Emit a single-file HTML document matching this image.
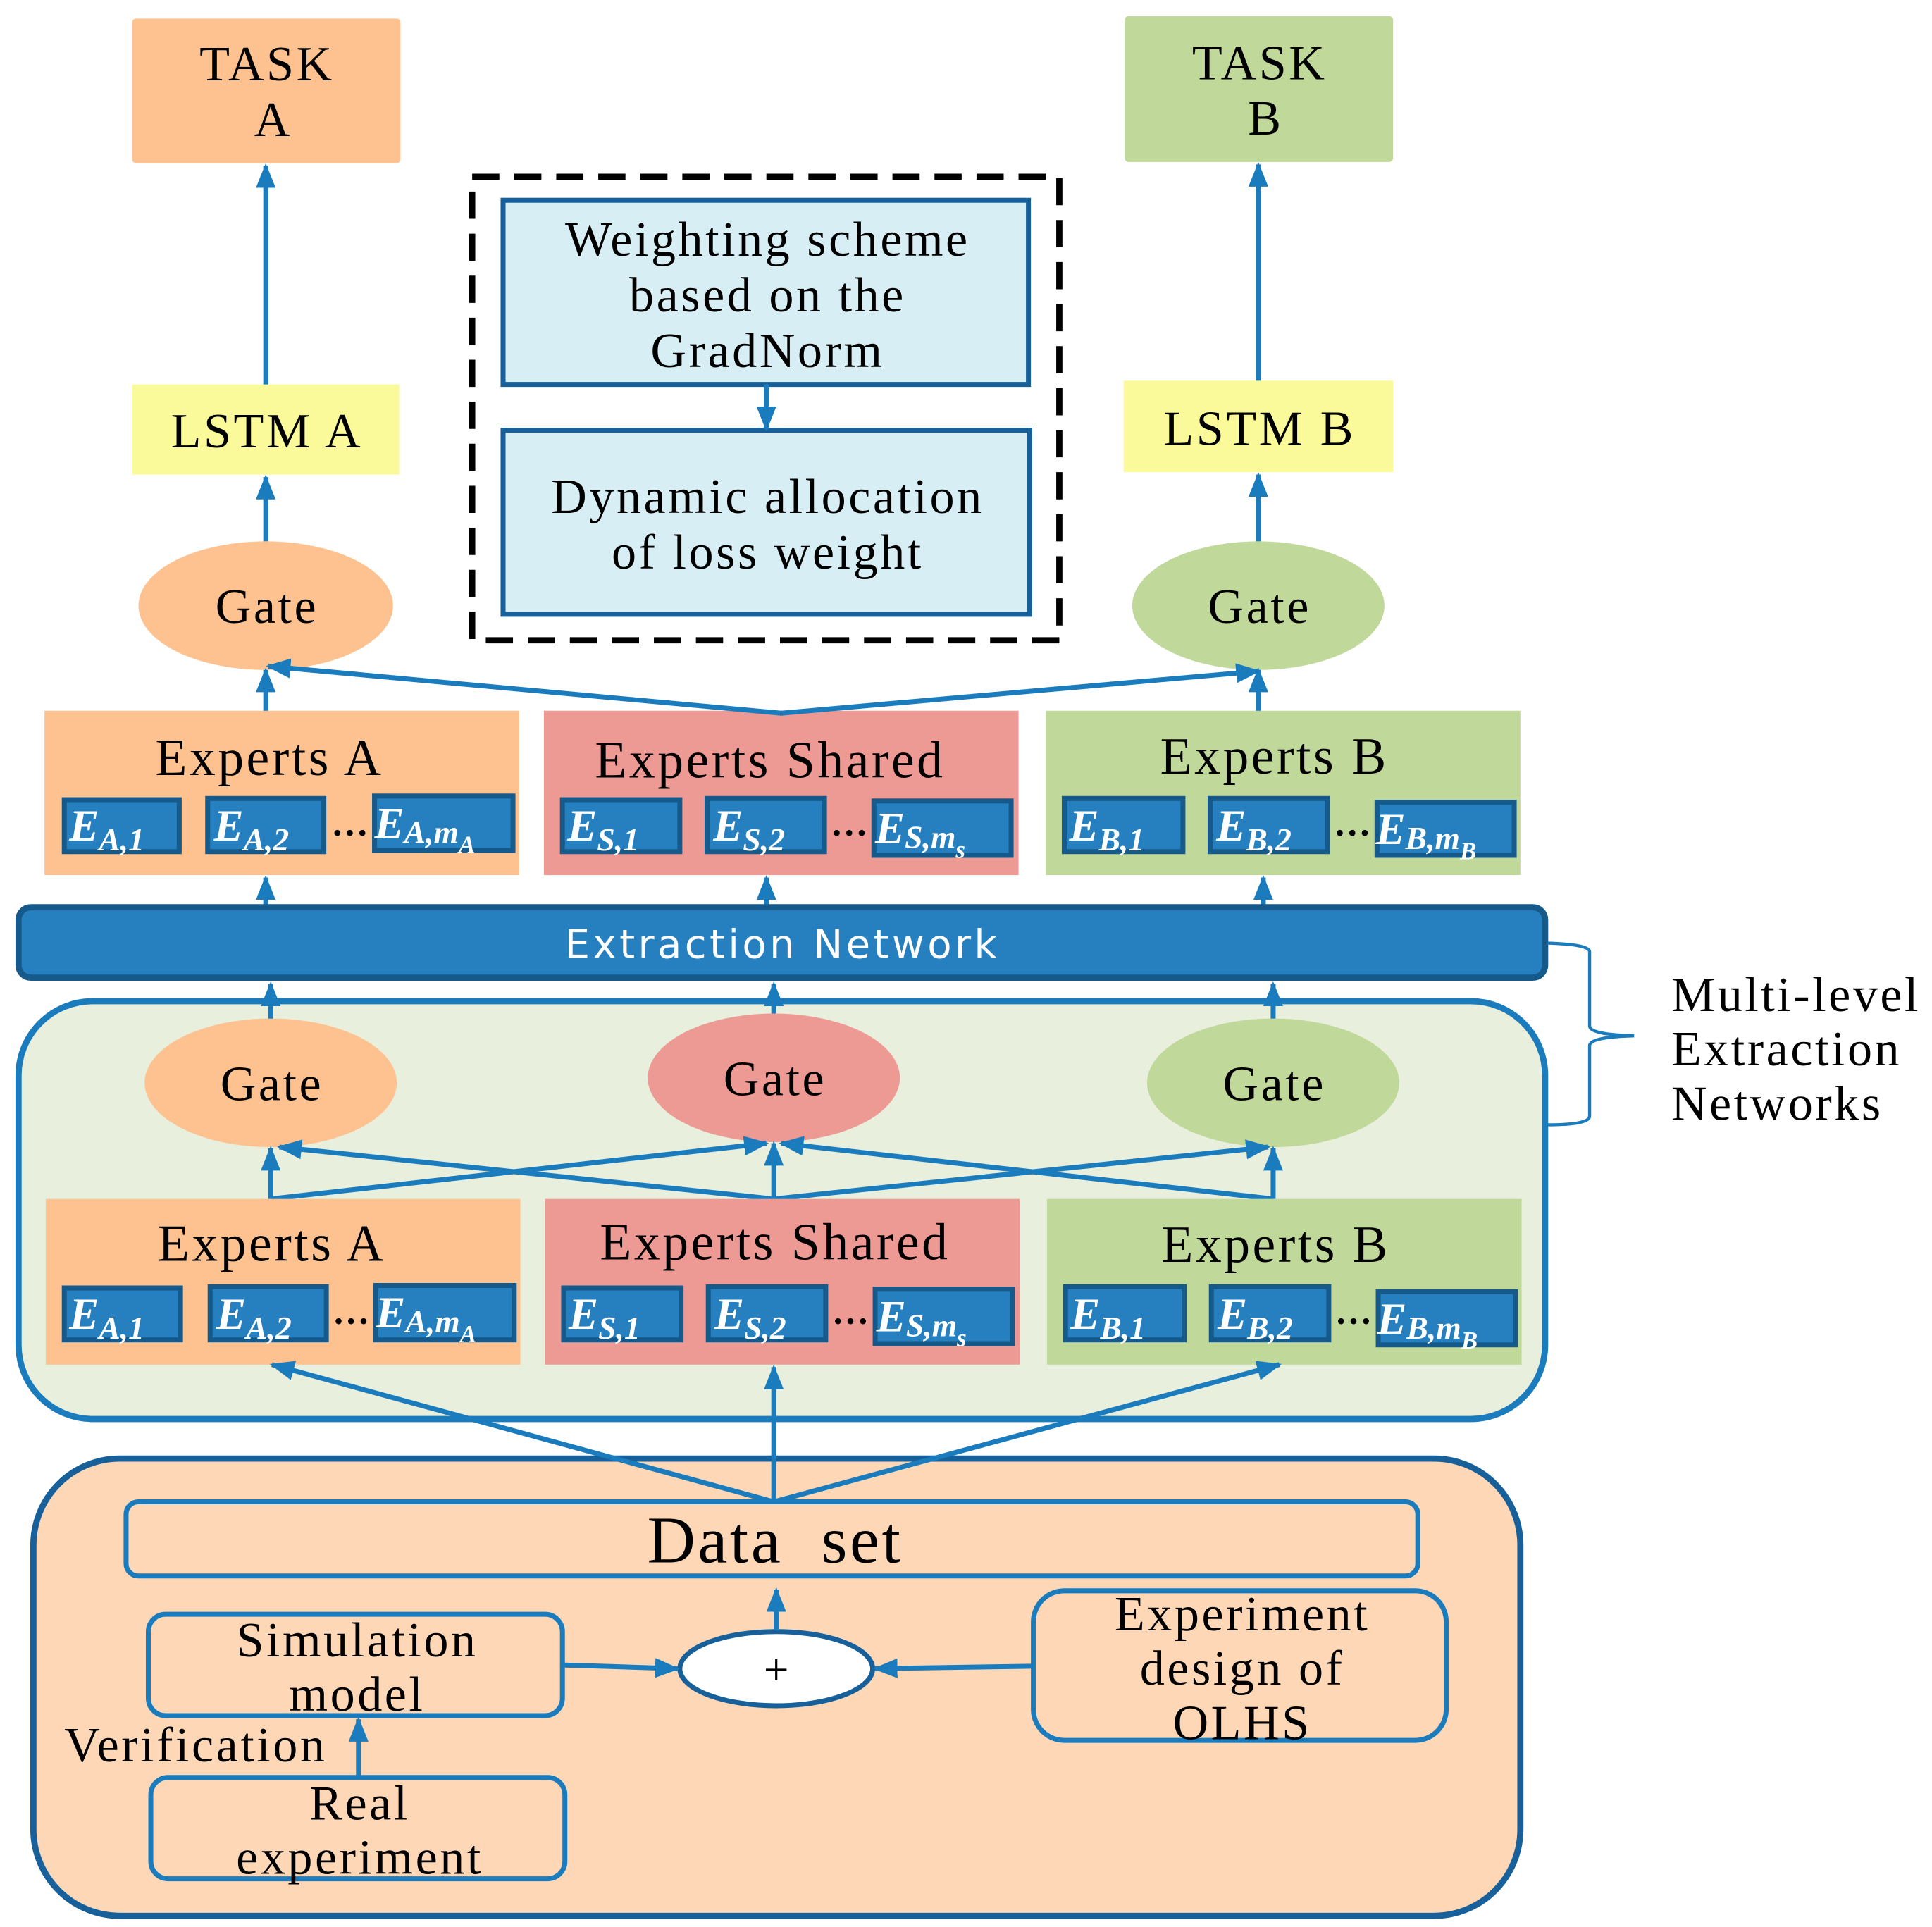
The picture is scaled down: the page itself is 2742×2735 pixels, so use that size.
<!DOCTYPE html>
<html><head><meta charset="utf-8"><style>
html,body{margin:0;padding:0;background:#fff;}
svg{display:block;}
text{font-family:"Liberation Serif",serif;fill:#000;letter-spacing:2px;}
.sb{fill:#2680C0;stroke:#155A8A;stroke-width:4;}
.et{fill:#fff;font-style:italic;font-weight:bold;font-size:36px;letter-spacing:0;}
.ar{stroke:#1a7bbd;stroke-width:4;fill:none;}
</style></head><body>
<svg width="2742" height="2735" viewBox="0 0 1563 1559" xmlns="http://www.w3.org/2000/svg">
<defs>
<marker id="ah" viewBox="0 0 10 10" refX="9" refY="5" markerWidth="5" markerHeight="5" orient="auto" markerUnits="strokeWidth">
<path d="M0,1 L10,5 L0,9 z" fill="#1a7bbd"/></marker>
</defs>
<rect width="1563" height="1559" fill="#fff"/>

<rect x="107" y="15" width="217" height="117" rx="3" fill="#FDC290"/>
<text x="216" y="65" font-size="40" text-anchor="middle">TASK</text>
<text x="221" y="110" font-size="40" text-anchor="middle">A</text>
<rect x="910" y="13" width="217" height="118" rx="3" fill="#C0D89A"/>
<text x="1019" y="64" font-size="40" text-anchor="middle">TASK</text>
<text x="1024" y="109" font-size="40" text-anchor="middle">B</text>

<rect x="107" y="311" width="216" height="73" fill="#FAFA9B"/>
<text x="216" y="362" font-size="40" text-anchor="middle">LSTM A</text>
<rect x="909" y="308" width="218" height="74" fill="#FAFA9B"/>
<text x="1019" y="360" font-size="40" text-anchor="middle">LSTM B</text>

<line class="ar" x1="215" y1="311" x2="215" y2="134" marker-end="url(#ah)"/>
<line class="ar" x1="1018" y1="308" x2="1018" y2="133" marker-end="url(#ah)"/>
<line class="ar" x1="215" y1="438" x2="215" y2="386" marker-end="url(#ah)"/>
<line class="ar" x1="1018" y1="438" x2="1018" y2="384" marker-end="url(#ah)"/>

<ellipse cx="215" cy="490" rx="103" ry="52" fill="#FDC290"/>
<text x="216" y="504" font-size="40" text-anchor="middle">Gate</text>
<ellipse cx="1018" cy="490" rx="102" ry="52" fill="#C0D89A"/>
<text x="1019" y="504" font-size="40" text-anchor="middle">Gate</text>

<rect x="382" y="143" width="475" height="375" fill="none" stroke="#000" stroke-width="5" stroke-dasharray="22,12"/>
<rect x="407" y="162" width="425" height="149" fill="#D6EEF4" stroke="#17609a" stroke-width="4"/>
<text x="621" y="207" font-size="40" text-anchor="middle">Weighting scheme</text>
<text x="621" y="252" font-size="40" text-anchor="middle">based on the</text>
<text x="621" y="297" font-size="40" text-anchor="middle">GradNorm</text>
<rect x="407" y="348" width="426" height="149" fill="#D6EEF4" stroke="#17609a" stroke-width="4"/>
<text x="621" y="415" font-size="40" text-anchor="middle">Dynamic allocation</text>
<text x="621" y="460" font-size="40" text-anchor="middle">of loss weight</text>
<line class="ar" x1="620" y1="311" x2="620" y2="347" marker-end="url(#ah)"/>

<rect x="36" y="575" width="384" height="133" fill="#FDC290"/>
<rect x="440" y="575" width="384" height="133" fill="#EE9A94"/>
<rect x="846" y="575" width="384" height="133" fill="#C0D89A"/>
<text x="218" y="627" font-size="42" text-anchor="middle">Experts A</text>
<text x="623" y="629" font-size="42" text-anchor="middle">Experts Shared</text>
<text x="1031" y="626" font-size="42" text-anchor="middle">Experts B</text>

<g>
<rect class="sb" x="52" y="647" width="93" height="42"/><text class="et" x="56" y="680">E<tspan font-size="26" dy="8">A,1</tspan></text>
<rect class="sb" x="168" y="646" width="94" height="43"/><text class="et" x="173" y="680">E<tspan font-size="26" dy="8">A,2</tspan></text>
<text x="283" y="676" font-size="30" font-weight="bold" text-anchor="middle" style="letter-spacing:0">…</text>
<rect class="sb" x="303" y="644" width="112" height="44"/><text class="et" x="303" y="678">E<tspan font-size="26" dy="4">A,m</tspan><tspan font-size="20" dy="8">A</tspan></text>

<rect class="sb" x="455" y="647" width="95" height="42"/><text class="et" x="459" y="680">E<tspan font-size="26" dy="8">S,1</tspan></text>
<rect class="sb" x="572" y="646" width="95" height="43"/><text class="et" x="577" y="680">E<tspan font-size="26" dy="8">S,2</tspan></text>
<text x="687" y="676" font-size="30" font-weight="bold" text-anchor="middle" style="letter-spacing:0">…</text>
<rect class="sb" x="707" y="648" width="111" height="44"/><text class="et" x="708" y="682">E<tspan font-size="26" dy="4">S,m</tspan><tspan font-size="20" dy="8">s</tspan></text>

<rect class="sb" x="861" y="646" width="96" height="43"/><text class="et" x="865" y="680">E<tspan font-size="26" dy="8">B,1</tspan></text>
<rect class="sb" x="979" y="646" width="95" height="43"/><text class="et" x="984" y="680">E<tspan font-size="26" dy="8">B,2</tspan></text>
<text x="1094" y="676" font-size="30" font-weight="bold" text-anchor="middle" style="letter-spacing:0">…</text>
<rect class="sb" x="1114" y="649" width="111" height="43"/><text class="et" x="1113" y="683">E<tspan font-size="26" dy="4">B,m</tspan><tspan font-size="20" dy="8">B</tspan></text>
</g>

<polyline class="ar" points="632,577 217,539" marker-end="url(#ah)"/>
<polyline class="ar" points="632,577 1018,543" marker-end="url(#ah)"/>
<line class="ar" x1="215" y1="575" x2="215" y2="542" marker-end="url(#ah)"/>
<line class="ar" x1="1018" y1="575" x2="1018" y2="542" marker-end="url(#ah)"/>
<line class="ar" x1="215" y1="733" x2="215" y2="710" marker-end="url(#ah)"/>
<line class="ar" x1="620" y1="733" x2="620" y2="710" marker-end="url(#ah)"/>
<line class="ar" x1="1022" y1="733" x2="1022" y2="710" marker-end="url(#ah)"/>

<rect x="15" y="734" width="1235" height="57" rx="10" fill="#2680C0" stroke="#155A8A" stroke-width="5"/>
<text x="633" y="775" font-size="32" text-anchor="middle" style="font-family:'DejaVu Sans','Liberation Sans',sans-serif;fill:#fff;letter-spacing:2.5px">Extraction Network</text>

<path d="M1252,763 Q1286,764 1286,770 L1286,830 Q1286,837 1322,838 Q1286,839 1286,846 L1286,903 Q1286,910 1252,910" fill="none" stroke="#1a7bbd" stroke-width="2.5"/>
<text x="1352" y="818" font-size="40">Multi-level</text>
<text x="1352" y="862" font-size="40">Extraction</text>
<text x="1352" y="906" font-size="40">Networks</text>

<rect x="15" y="810" width="1235" height="338" rx="60" fill="#E8EFDC" stroke="#1a7bbd" stroke-width="5"/>
<line class="ar" x1="219" y1="830" x2="219" y2="796" marker-end="url(#ah)"/>
<line class="ar" x1="626" y1="824" x2="626" y2="796" marker-end="url(#ah)"/>
<line class="ar" x1="1030" y1="828" x2="1030" y2="796" marker-end="url(#ah)"/>

<ellipse cx="219" cy="876" rx="102" ry="52" fill="#FDC290"/>
<text x="220" y="890" font-size="40" text-anchor="middle">Gate</text>
<ellipse cx="626" cy="872" rx="102" ry="52" fill="#EE9A94"/>
<text x="627" y="886" font-size="40" text-anchor="middle">Gate</text>
<ellipse cx="1030" cy="876" rx="102" ry="52" fill="#C0D89A"/>
<text x="1031" y="890" font-size="40" text-anchor="middle">Gate</text>

<line class="ar" x1="219" y1="970" x2="219" y2="929" marker-end="url(#ah)"/>
<line class="ar" x1="626" y1="970" x2="626" y2="925" marker-end="url(#ah)"/>
<line class="ar" x1="1030" y1="970" x2="1030" y2="929" marker-end="url(#ah)"/>
<line class="ar" x1="219" y1="970" x2="620" y2="925" marker-end="url(#ah)"/>
<line class="ar" x1="626" y1="970" x2="226" y2="928" marker-end="url(#ah)"/>
<line class="ar" x1="626" y1="970" x2="1026" y2="928" marker-end="url(#ah)"/>
<line class="ar" x1="1030" y1="970" x2="632" y2="925" marker-end="url(#ah)"/>

<rect x="37" y="970" width="384" height="134" fill="#FDC290"/>
<rect x="441" y="970" width="384" height="134" fill="#EE9A94"/>
<rect x="847" y="970" width="384" height="134" fill="#C0D89A"/>
<text x="220" y="1020" font-size="42" text-anchor="middle">Experts A</text>
<text x="627" y="1019" font-size="42" text-anchor="middle">Experts Shared</text>
<text x="1032" y="1021" font-size="42" text-anchor="middle">Experts B</text>

<g>
<rect class="sb" x="52" y="1042" width="94" height="42"/><text class="et" x="56" y="1075">E<tspan font-size="26" dy="8">A,1</tspan></text>
<rect class="sb" x="170" y="1041" width="94" height="43"/><text class="et" x="175" y="1075">E<tspan font-size="26" dy="8">A,2</tspan></text>
<text x="284" y="1071" font-size="30" font-weight="bold" text-anchor="middle" style="letter-spacing:0">…</text>
<rect class="sb" x="304" y="1040" width="112" height="44"/><text class="et" x="304" y="1074">E<tspan font-size="26" dy="4">A,m</tspan><tspan font-size="20" dy="8">A</tspan></text>

<rect class="sb" x="456" y="1042" width="95" height="42"/><text class="et" x="460" y="1075">E<tspan font-size="26" dy="8">S,1</tspan></text>
<rect class="sb" x="573" y="1041" width="95" height="43"/><text class="et" x="578" y="1075">E<tspan font-size="26" dy="8">S,2</tspan></text>
<text x="688" y="1071" font-size="30" font-weight="bold" text-anchor="middle" style="letter-spacing:0">…</text>
<rect class="sb" x="708" y="1043" width="111" height="44"/><text class="et" x="709" y="1077">E<tspan font-size="26" dy="4">S,m</tspan><tspan font-size="20" dy="8">s</tspan></text>

<rect class="sb" x="862" y="1041" width="96" height="43"/><text class="et" x="866" y="1075">E<tspan font-size="26" dy="8">B,1</tspan></text>
<rect class="sb" x="980" y="1041" width="95" height="43"/><text class="et" x="985" y="1075">E<tspan font-size="26" dy="8">B,2</tspan></text>
<text x="1095" y="1071" font-size="30" font-weight="bold" text-anchor="middle" style="letter-spacing:0">…</text>
<rect class="sb" x="1115" y="1045" width="111" height="43"/><text class="et" x="1114" y="1079">E<tspan font-size="26" dy="4">B,m</tspan><tspan font-size="20" dy="8">B</tspan></text>
</g>

<rect x="27" y="1180" width="1203" height="370" rx="70" fill="#FDD7B6" stroke="#17609a" stroke-width="5"/>
<line class="ar" x1="626" y1="1215" x2="626" y2="1106" marker-end="url(#ah)"/>
<line class="ar" x1="626" y1="1215" x2="220" y2="1104" marker-end="url(#ah)"/>
<line class="ar" x1="626" y1="1215" x2="1035" y2="1104" marker-end="url(#ah)"/>

<rect x="102" y="1215" width="1045" height="60" rx="10" fill="#FDD7B6" stroke="#1a7bbd" stroke-width="4"/>
<text x="627" y="1264" font-size="54" text-anchor="middle" xml:space="preserve">Data  set</text>

<ellipse cx="628" cy="1350" rx="78" ry="30" fill="#fff" stroke="#17609a" stroke-width="4"/>
<text x="629" y="1363" font-size="36" text-anchor="middle">+</text>
<line class="ar" x1="628" y1="1319" x2="628" y2="1286" marker-end="url(#ah)"/>

<rect x="120" y="1306" width="335" height="82" rx="14" fill="none" stroke="#1a7bbd" stroke-width="4"/>
<text x="289" y="1340" font-size="40" text-anchor="middle">Simulation</text>
<text x="289" y="1384" font-size="40" text-anchor="middle">model</text>
<line class="ar" x1="455" y1="1347" x2="548" y2="1350" marker-end="url(#ah)"/>

<rect x="836" y="1287" width="334" height="121" rx="25" fill="none" stroke="#1a7bbd" stroke-width="4"/>
<text x="1005" y="1319" font-size="40" text-anchor="middle">Experiment</text>
<text x="1005" y="1363" font-size="40" text-anchor="middle">design of</text>
<text x="1005" y="1407" font-size="40" text-anchor="middle">OLHS</text>
<line class="ar" x1="836" y1="1348" x2="708" y2="1350" marker-end="url(#ah)"/>

<text x="52" y="1425" font-size="40">Verification</text>
<rect x="122" y="1438" width="335" height="82" rx="14" fill="none" stroke="#1a7bbd" stroke-width="4"/>
<text x="291" y="1472" font-size="40" text-anchor="middle">Real</text>
<text x="291" y="1516" font-size="40" text-anchor="middle">experiment</text>
<line class="ar" x1="290" y1="1438" x2="290" y2="1391" marker-end="url(#ah)"/>
</svg>
</body></html>
